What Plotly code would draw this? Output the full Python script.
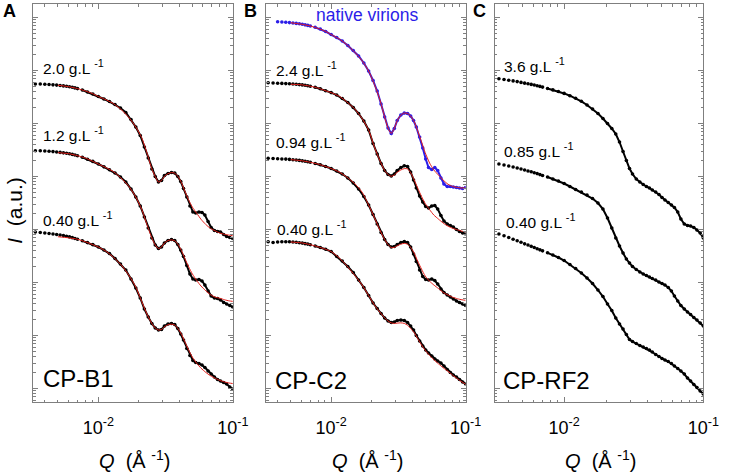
import plotly.graph_objects as go

W, H = 733, 475
FONT = "Liberation Sans, Arial, Helvetica, sans-serif"
AXIS_GREY = "#7f7f7f"

# scattering vector Q (1/Angstrom), shared by all measured curves
q = [0.0034, 0.0037, 0.0040, 0.0043, 0.0046, 0.0049, 0.0052, 0.0055, 0.0058, 0.0061,
     0.0064, 0.0067, 0.0070, 0.0076, 0.0083, 0.0091, 0.0100, 0.0110, 0.0121, 0.0133,
     0.0146, 0.0160, 0.0175, 0.0190, 0.0205, 0.0220, 0.0235, 0.0250, 0.0265, 0.0280,
     0.0295, 0.0310, 0.0330, 0.0350, 0.0370, 0.0390, 0.0410, 0.0430, 0.0455, 0.0480,
     0.0505, 0.0530, 0.0560, 0.0590, 0.0620, 0.0655, 0.0690, 0.0730, 0.0770, 0.0810,
     0.0855, 0.0900, 0.0950, 0.1000]

# log10 of I (a.u., curves shifted vertically)
a_20 = [6.742, 6.742, 6.738, 6.732, 6.726, 6.721, 6.713, 6.706, 6.698, 6.689,
        6.679, 6.668, 6.655, 6.628, 6.591, 6.553, 6.506, 6.458, 6.411, 6.355,
        6.289, 6.204, 6.072, 5.930, 5.770, 5.553, 5.345, 5.138, 4.996, 4.892,
        4.921, 5.015, 5.053, 5.072, 5.062, 4.996, 4.902, 4.770, 4.609, 4.440,
        4.326, 4.308, 4.326, 4.317, 4.270, 4.147, 4.034, 3.977, 3.958, 3.949,
        3.902, 3.864, 3.845, 3.826]
a_12 = [5.483, 5.481, 5.477, 5.472, 5.466, 5.458, 5.451, 5.443, 5.434, 5.425,
        5.413, 5.402, 5.389, 5.360, 5.323, 5.281, 5.232, 5.179, 5.125, 5.062,
        4.987, 4.892, 4.760, 4.609, 4.440, 4.232, 4.025, 3.836, 3.704, 3.638,
        3.666, 3.742, 3.789, 3.808, 3.789, 3.713, 3.609, 3.487, 3.317, 3.157,
        3.062, 3.043, 3.053, 3.025, 2.949, 2.836, 2.742, 2.704, 2.694, 2.666,
        2.619, 2.591, 2.562, 2.534]
a_040 = [3.949, 3.940, 3.930, 3.921, 3.911, 3.902, 3.892, 3.881, 3.870, 3.857,
         3.843, 3.828, 3.813, 3.783, 3.749, 3.711, 3.666, 3.609, 3.543, 3.449,
         3.345, 3.232, 3.062, 2.892, 2.704, 2.496, 2.345, 2.223, 2.138, 2.100,
         2.109, 2.175, 2.213, 2.223, 2.204, 2.128, 2.025, 1.911, 1.751, 1.619,
         1.525, 1.487, 1.468, 1.440, 1.392, 1.326, 1.270, 1.213, 1.166, 1.138,
         1.109, 1.081, 1.025, 0.987]
b_native = [None, None, 7.917, 7.911, 7.906, 7.900, 7.892, 7.885, 7.877, 7.868,
            7.858, 7.847, 7.836, 7.811, 7.779, 7.732, 7.675, 7.619, 7.553, 7.468,
            7.374, 7.270, 7.138, 6.987, 6.808, 6.609, 6.364, 6.119, 5.911, 5.808,
            5.902, 6.053, 6.157, 6.194, 6.185, 6.138, 6.053, 5.930, 5.742, 5.534,
            5.326, 5.166, 5.128, 5.166, 5.109, 4.968, 4.855, 4.808, 4.808, 4.798,
            4.789, 4.779, 4.770, 4.789]
b_24 = [6.764, 6.760, 6.757, 6.753, 6.749, 6.745, 6.742, 6.736, 6.730, 6.725,
        6.717, 6.709, 6.700, 6.679, 6.651, 6.613, 6.579, 6.534, 6.468, 6.392,
        6.298, 6.185, 6.043, 5.874, 5.619, 5.421, 5.242, 5.109, 5.034, 5.006,
        5.043, 5.109, 5.166, 5.198, 5.185, 5.081, 4.930, 4.779, 4.628, 4.515,
        4.430, 4.402, 4.440, 4.449, 4.383, 4.260, 4.157, 4.100, 4.072, 4.043,
        3.996, 3.958, 3.930, 3.911]
b_094 = [5.340, 5.336, 5.332, 5.328, 5.325, 5.319, 5.313, 5.308, 5.300, 5.292,
         5.283, 5.274, 5.264, 5.243, 5.217, 5.185, 5.147, 5.100, 5.043, 4.968,
         4.874, 4.760, 4.619, 4.458, 4.279, 4.100, 3.940, 3.808, 3.713, 3.666,
         3.675, 3.713, 3.751, 3.770, 3.751, 3.666, 3.534, 3.392, 3.232, 3.109,
         3.053, 3.043, 3.062, 3.034, 2.968, 2.874, 2.808, 2.760, 2.723, 2.685,
         2.647, 2.619, 2.591, 2.562]
b_040 = [3.766, 3.751, 3.760, 3.764, 3.764, 3.764, 3.760, 3.755, 3.747, 3.740,
         3.730, 3.721, 3.709, 3.685, 3.657, 3.623, 3.581, 3.487, 3.402, 3.298,
         3.185, 3.043, 2.902, 2.751, 2.609, 2.506, 2.411, 2.326, 2.270, 2.242,
         2.251, 2.279, 2.289, 2.279, 2.242, 2.175, 2.100, 1.996, 1.892, 1.798,
         1.723, 1.666, 1.609, 1.553, 1.515, 1.477, 1.421, 1.355, 1.298, 1.251,
         1.213, 1.166, 1.119, 1.081]
c_36 = [6.840, 6.826, 6.813, 6.800, 6.787, 6.772, 6.758, 6.745, 6.734, 6.723,
        6.709, 6.696, 6.683, 6.658, 6.630, 6.600, 6.564, 6.521, 6.472, 6.415,
        6.345, 6.270, 6.185, 6.091, 5.996, 5.902, 5.798, 5.647, 5.468, 5.298,
        5.147, 5.043, 4.949, 4.892, 4.845, 4.808, 4.779, 4.742, 4.704, 4.657,
        4.600, 4.553, 4.506, 4.458, 4.411, 4.326, 4.194, 4.100, 4.072, 4.062,
        4.034, 3.987, 3.930, 3.836]
c_085 = [5.232, 5.213, 5.194, 5.175, 5.157, 5.138, 5.119, 5.100, 5.085, 5.068,
         5.051, 5.032, 5.015, 4.987, 4.949, 4.911, 4.864, 4.808, 4.751, 4.704,
         4.647, 4.581, 4.496, 4.383, 4.213, 4.025, 3.836, 3.685, 3.553, 3.440,
         3.364, 3.298, 3.242, 3.194, 3.157, 3.128, 3.100, 3.072, 3.043, 3.006,
         2.977, 2.949, 2.902, 2.836, 2.742, 2.647, 2.562, 2.496, 2.440, 2.392,
         2.336, 2.289, 2.232, 2.175]
c_040 = [3.911, 3.879, 3.845, 3.813, 3.783, 3.755, 3.726, 3.704, 3.679, 3.657,
         3.634, 3.613, 3.594, 3.557, 3.515, 3.468, 3.411, 3.336, 3.260, 3.175,
         3.081, 2.977, 2.855, 2.732, 2.591, 2.468, 2.326, 2.213, 2.119, 2.015,
         1.921, 1.883, 1.845, 1.808, 1.779, 1.751, 1.723, 1.685, 1.638, 1.600,
         1.562, 1.534, 1.506, 1.468, 1.421, 1.374, 1.326, 1.270, 1.194, 1.138,
         1.072, 1.015, 0.949, 0.892]

# model fits (red lines)
q_fit = [0.0050, 0.0060, 0.0070, 0.0080, 0.0090, 0.0100, 0.0115, 0.0130, 0.0150, 0.0170,
         0.0190, 0.0210, 0.0230, 0.0250, 0.0265, 0.0280, 0.0295, 0.0310, 0.0330, 0.0350,
         0.0370, 0.0390, 0.0415, 0.0440, 0.0470, 0.0500, 0.0540, 0.0580, 0.0630, 0.0680,
         0.0740, 0.0800, 0.0870, 0.0940, 0.1000]
fit_a_20 = [6.718, 6.692, 6.655, 6.610, 6.563, 6.506, 6.440, 6.370, 6.245, 6.100,
            5.930, 5.730, 5.440, 5.140, 4.996, 4.892, 4.921, 5.000, 5.050, 5.070,
            5.060, 5.000, 4.880, 4.720, 4.550, 4.420, 4.300, 4.190, 4.090, 4.020,
            3.970, 3.930, 3.905, 3.890, 3.880]
fit_a_12 = [5.446, 5.428, 5.389, 5.345, 5.288, 5.232, 5.160, 5.085, 4.950, 4.800,
            4.609, 4.380, 4.090, 3.836, 3.704, 3.638, 3.666, 3.742, 3.789, 3.800,
            3.785, 3.720, 3.600, 3.450, 3.290, 3.160, 3.030, 2.930, 2.840, 2.770,
            2.720, 2.700, 2.670, 2.650, 2.640]
fit_a_040 = [3.860, 3.840, 3.813, 3.765, 3.715, 3.666, 3.580, 3.470, 3.310, 3.120,
             2.910, 2.640, 2.400, 2.223, 2.138, 2.100, 2.110, 2.160, 2.200, 2.210,
             2.195, 2.130, 2.020, 1.880, 1.720, 1.590, 1.470, 1.380, 1.300, 1.240,
             1.190, 1.150, 1.120, 1.100, 1.090]
fit_b_native = [7.897, 7.870, 7.836, 7.790, 7.740, 7.675, 7.590, 7.490, 7.340, 7.180,
                6.987, 6.730, 6.450, 6.119, 5.911, 5.808, 5.902, 6.053, 6.157, 6.194,
                6.185, 6.138, 6.030, 5.860, 5.650, 5.450, 5.250, 5.120, 5.020, 4.930,
                4.850, 4.810, 4.790, 4.780, 4.780]
fit_b_24 = [6.737, 6.727, 6.700, 6.665, 6.618, 6.579, 6.510, 6.410, 6.270, 6.090,
            5.874, 5.550, 5.300, 5.109, 5.034, 5.000, 5.025, 5.075, 5.120, 5.145,
            5.140, 5.070, 4.930, 4.780, 4.620, 4.490, 4.370, 4.270, 4.190, 4.120,
            4.060, 4.020, 3.990, 3.965, 3.950]
fit_b_094 = [5.315, 5.295, 5.264, 5.230, 5.190, 5.147, 5.080, 4.990, 4.860, 4.700,
             4.458, 4.220, 3.990, 3.808, 3.713, 3.655, 3.660, 3.690, 3.720, 3.735,
             3.720, 3.660, 3.550, 3.400, 3.250, 3.120, 3.020, 2.950, 2.880, 2.810,
             2.760, 2.720, 2.690, 2.670, 2.660]
fit_b_040 = [3.760, 3.745, 3.710, 3.670, 3.628, 3.581, 3.460, 3.320, 3.130, 2.950,
             2.751, 2.570, 2.440, 2.330, 2.270, 2.235, 2.225, 2.230, 2.235, 2.225,
             2.190, 2.130, 2.050, 1.940, 1.820, 1.720, 1.620, 1.540, 1.460, 1.390,
             1.320, 1.250, 1.180, 1.120, 1.080]

BLACK = "#000000"
BLUE = "#2b1de8"
RED = "#e3201b"
DENSE_FROM = 13  # index where the points become dense enough to look continuous


def to_i(logs):
    return [None if v is None else 10 ** v for v in logs]


def px(x):
    return x / W


def py(y):
    return 1 - y / H


panels = [
    dict(ax="", curves=[(a_20, BLACK), (a_12, BLACK), (a_040, BLACK)],
         fits=[fit_a_20, fit_a_12, fit_a_040]),
    dict(ax="2", curves=[(b_native, BLUE), (b_24, BLACK), (b_094, BLACK), (b_040, BLACK)],
         fits=[fit_b_native, fit_b_24, fit_b_094, fit_b_040]),
    dict(ax="3", curves=[(c_36, BLACK), (c_085, BLACK), (c_040, BLACK)], fits=[]),
]

fig = go.Figure()
for p in panels:
    xa, ya = "x" + p["ax"], "y" + p["ax"]
    for vals, col in p["curves"]:
        fig.add_trace(go.Scatter(
            x=q[DENSE_FROM:], y=to_i(vals[DENSE_FROM:]), xaxis=xa, yaxis=ya,
            mode="lines", line=dict(color=col, width=2), hoverinfo="skip",
            showlegend=False))
        fig.add_trace(go.Scatter(
            x=q, y=to_i(vals), xaxis=xa, yaxis=ya, mode="markers",
            marker=dict(color=col, size=3.6), showlegend=False))
    for vals in p["fits"]:
        fig.add_trace(go.Scatter(
            x=q_fit, y=to_i(vals), xaxis=xa, yaxis=ya, mode="lines",
            line=dict(color=RED, width=1, shape="spline", smoothing=0.6),
            showlegend=False))

x_major = [0.01, 0.1]
x_minor = [0.004, 0.005, 0.006, 0.007, 0.008, 0.009,
           0.02, 0.03, 0.04, 0.05, 0.06, 0.07, 0.08, 0.09]
y_major = [10 ** n for n in range(0, 10)]
y_minor = [k * 10 ** n for n in range(0, 9) for k in range(2, 10)]

x_domains = [(34, 238), (272, 476), (506, 719)]
x_ranges = [[-2.484, -1.0], [-2.484, -1.0], [-2.497, -1.0]]
y_dom = [py(402), py(4)]

layout = dict(
    width=W, height=H, autosize=False,
    margin=dict(l=0, r=0, t=0, b=0),
    paper_bgcolor="white", plot_bgcolor="white",
    font=dict(family=FONT, color="black"),
    showlegend=False,
)
for i, (dom, rng) in enumerate(zip(x_domains, x_ranges)):
    suf = "" if i == 0 else str(i + 1)
    layout["xaxis" + suf] = dict(
        type="log", range=rng, domain=[px(dom[0]), px(dom[1])],
        anchor="y" + suf, showgrid=False, zeroline=False,
        showline=True, linecolor=AXIS_GREY, linewidth=1, mirror="ticks",
        ticks="inside", ticklen=5, tickcolor=AXIS_GREY,
        tickmode="array", tickvals=x_major,
        ticktext=["10<sup>-2</sup>", "10<sup>-1</sup>"],
        tickfont=dict(size=18, family=FONT), ticklabelstandoff=9,
        minor=dict(tickmode="array", tickvals=x_minor, ticks="inside",
                   ticklen=2.5, tickcolor=AXIS_GREY, showgrid=False),
    )
    layout["yaxis" + suf] = dict(
        type="log", range=[0.742, 8.251], domain=y_dom,
        anchor="x" + suf, showgrid=False, zeroline=False,
        showline=True, linecolor=AXIS_GREY, linewidth=1, mirror="ticks",
        ticks="inside", ticklen=5, tickcolor=AXIS_GREY,
        tickmode="array", tickvals=y_major, showticklabels=False,
        minor=dict(tickmode="array", tickvals=y_minor, ticks="inside",
                   ticklen=2.5, tickcolor=AXIS_GREY, showgrid=False),
    )
fig.update_layout(**layout)

ann = []


def label(x, y, text, size=15, color="black", xanchor="left", **kw):
    ann.append(dict(x=px(x), y=py(y), xref="paper", yref="paper", text=text,
                    showarrow=False, xanchor=xanchor, yanchor="middle",
                    font=dict(size=size, color=color, family=FONT), **kw))


conc = [(42, 67, "2.0"), (42, 134, "1.2"), (42, 219, "0.40"),
        (280, 69, "2.4"), (280, 141, "0.94"), (281, 228, "0.40"),
        (513, 65, "3.6"), (513, 150, "0.85"), (515, 221, "0.40")]
for x, y, c in conc:
    label(x, y, c + " g.L <sup>-1</sup>", size=15.5)

label(375, 15, "native virions", size=17.5, color=BLUE, xanchor="center")
label(42, 378, "CP-B1", size=24)
label(279, 380, "CP-C2", size=24)
label(512, 380, "CP-RF2", size=24)
label(1, 11, "<b>A</b>", size=18)
label(247, 11, "<b>B</b>", size=18)
label(481, 11, "<b>C</b>", size=18)
label(14, 210, "<i>I</i> &nbsp;(a.u.)", size=21, xanchor="center", textangle=-90)
for cx in (137, 376, 614):
    label(cx, 459, "<i>Q</i> &nbsp;(Å <sup>-1</sup>)", size=20, xanchor="center")

fig.update_layout(annotations=ann)
# no page margin or scrollbars: the figure sits at the window corner at its own size
page_css = (
    "document.documentElement.style.overflow='hidden';"
    "document.body.style.margin='0px';"
    "document.body.style.overflow='hidden';"
)
fig.write_html(
    "out.html",
    config={"displayModeBar": False, "responsive": False},
    post_script=page_css,
)
